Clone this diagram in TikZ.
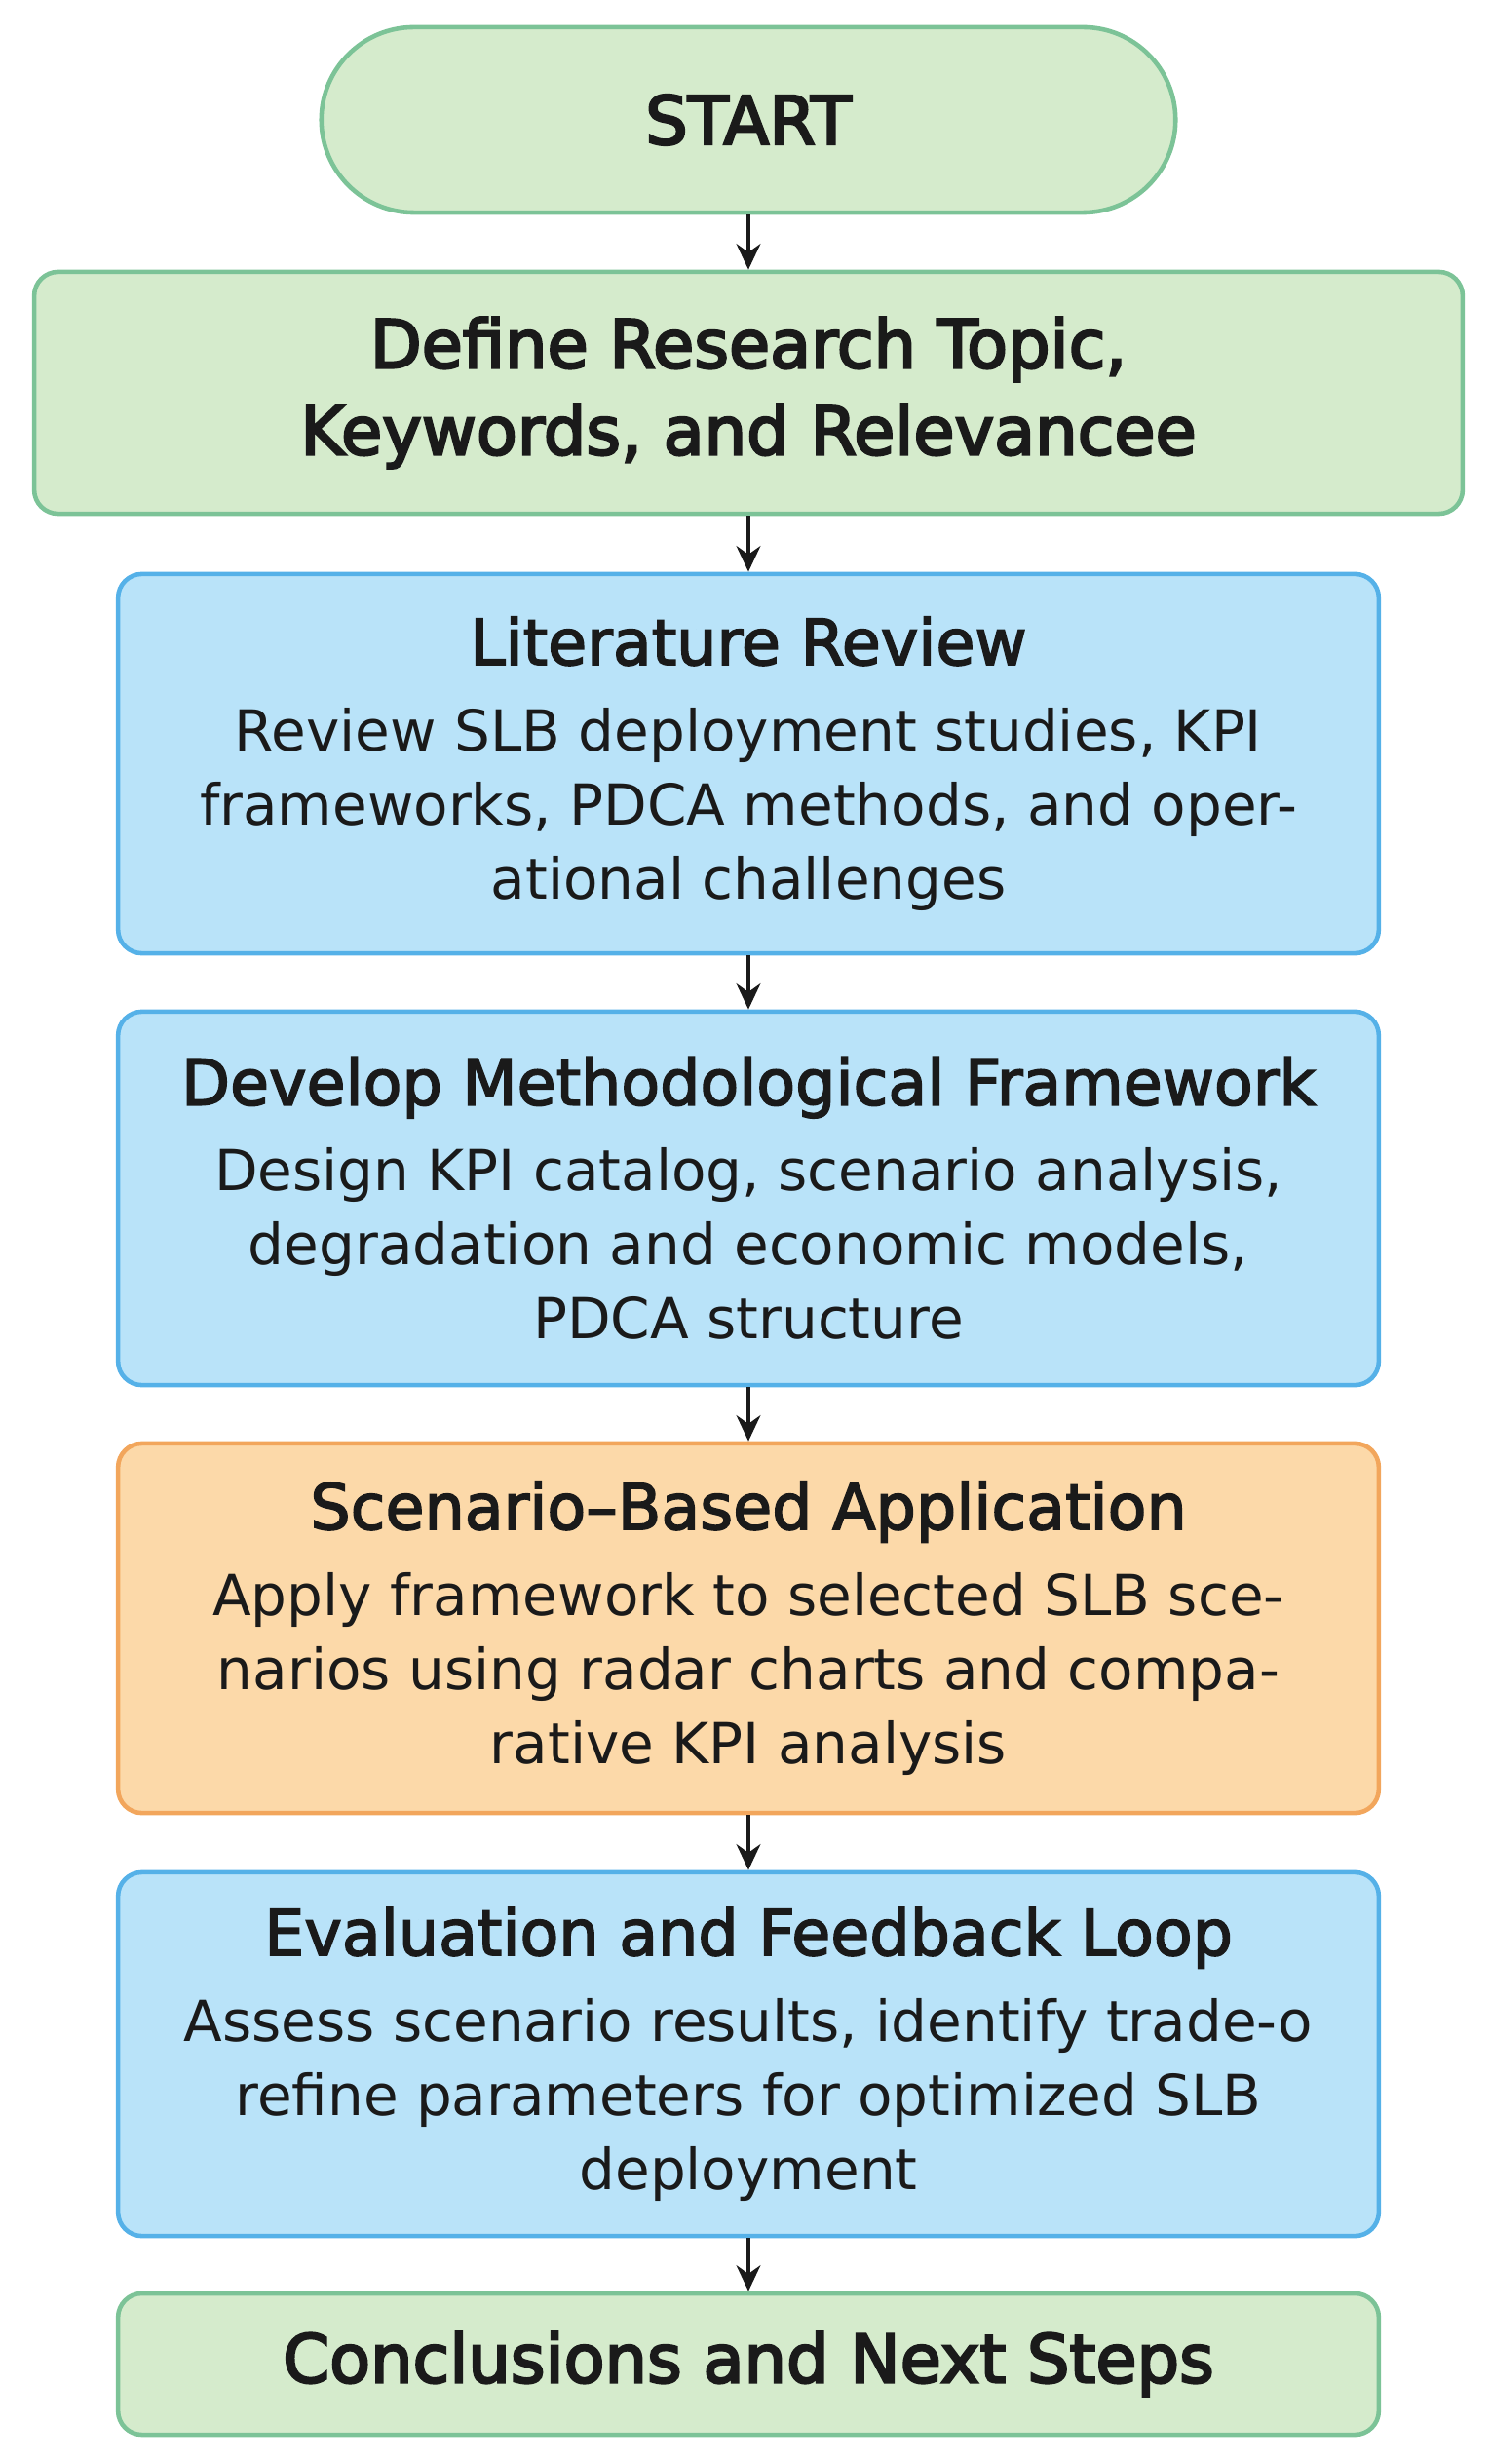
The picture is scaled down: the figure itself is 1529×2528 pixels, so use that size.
\documentclass[tikz,border=0pt]{standalone}
\usepackage{fontspec}
\setmainfont{DejaVu Sans}
\newfontfamily\headfont[FakeBold=3.5]{DejaVu Sans}
\newfontfamily\stepfont[FakeBold=2.5]{DejaVu Sans}
\usetikzlibrary{arrows.meta}
\definecolor{greenfill}{HTML}{D5EBCC}
\definecolor{greenline}{HTML}{7CC397}
\definecolor{bluefill}{HTML}{B9E3F9}
\definecolor{blueline}{HTML}{55B1E8}
\definecolor{orangefill}{HTML}{FCD9A9}
\definecolor{orangeline}{HTML}{F2A65C}
\definecolor{inkdark}{HTML}{1A1A1A}
\newcommand{\headsize}{\fontsize{19.5}{25.3}\selectfont\headfont}
\newcommand{\stepsize}{\fontsize{18.5}{24}\selectfont\stepfont}
\newcommand{\bodysize}{\fontsize{16.5}{21.6}\selectfont}
\tikzset{
    % one style per box colour
    box/.style={draw, line width=1.3pt, rounded corners=7pt, align=center,
        inner sep=0pt, text=inkdark},
    greenbox/.style={box, draw=greenline, fill=greenfill},
    bluebox/.style={box, draw=blueline, fill=bluefill,
        minimum width=12.93cm, font=\bodysize},
    orangebox/.style={box, draw=orangeline, fill=orangefill,
        minimum width=12.93cm, font=\bodysize},
    flow/.style={-{Stealth[length=7.5pt, width=7pt]}, line width=1.3pt, draw=inkdark}
}
\begin{document}
\begin{tikzpicture}[x=0.01cm, y=-0.01cm]
    \useasboundingbox (0,0) rectangle (1529,2528);
    \node[greenbox, rounded corners=27pt, minimum width=8.76cm, minimum height=1.90cm,
        font=\headsize] (start) at (768,123) {START};
    \node[greenbox, minimum width=14.65cm, minimum height=2.48cm,
        font=\headsize] (define) at (768,403)
        {Define Research Topic,\\Keywords, and Relevancee};
    \node[bluebox, minimum height=3.89cm] (litrev) at (768,783.5)
        {{\stepsize Literature Review}\\[3.5pt]
         Review SLB deployment studies, KPI\\
         frameworks, PDCA methods, and oper-\\
         ational challenges};
    \node[bluebox, minimum height=3.83cm] (method) at (768,1229.5)
        {{\stepsize Develop Methodological Framework}\\[3.5pt]
         Design KPI catalog, scenario analysis,\\
         degradation and economic models,\\
         PDCA structure};
    \node[orangebox, minimum height=3.79cm] (scen) at (768,1670.5)
        {{\stepsize Scenario–Based Application}\\[3.5pt]
         Apply framework to selected SLB sce-\\
         narios using radar charts and compa-\\
         rative KPI analysis};
    \node[bluebox, minimum height=3.73cm] (evalloop) at (768,2107.5)
        {{\stepsize Evaluation and Feedback Loop}\\[3.5pt]
         Assess scenario results, identify trade-o\\
         refine parameters for optimized SLB\\
         deployment};
    \node[greenbox, minimum width=12.93cm, minimum height=1.45cm,
        font=\headsize] (concl) at (768,2425.5) {Conclusions and Next Steps};
    \foreach \a/\b in {start/define, define/litrev, litrev/method,
        method/scen, scen/evalloop, evalloop/concl} {
        \draw[flow] (\a.south) -- (\b.north);
    }
\end{tikzpicture}
\end{document}
